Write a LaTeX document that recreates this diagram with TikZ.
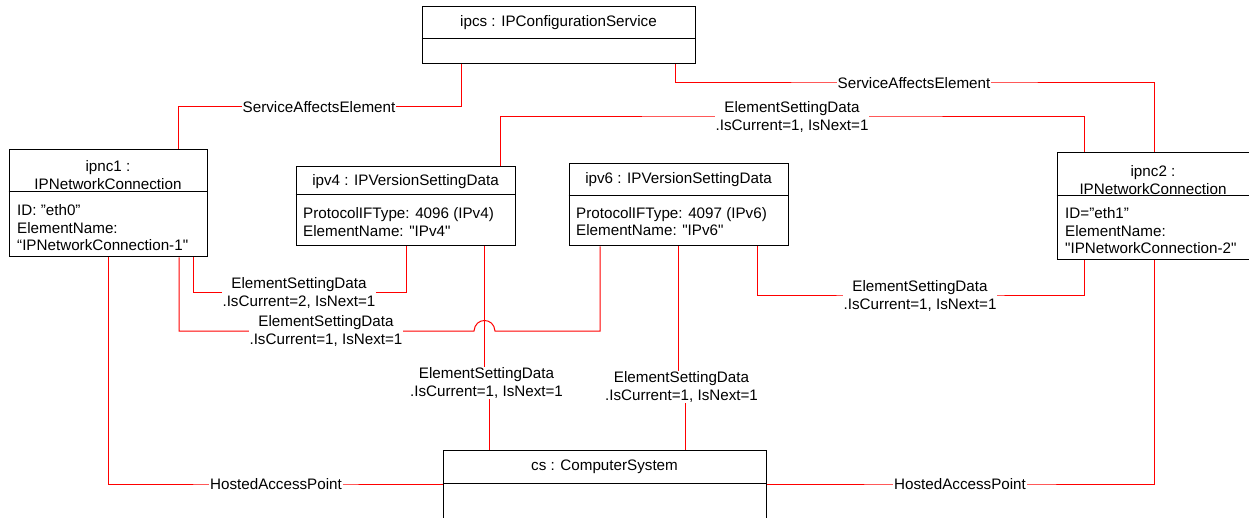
\documentclass[tikz,border=0pt]{standalone}
\usepackage{fontspec}
\setmainfont{Liberation Sans}[Ligatures=TeXOff]
\usepackage{tikz}

\begin{document}
\begin{tikzpicture}[x=1pt, y=-1pt,
  every node/.style={font=\fontsize{15.2}{17.5}\selectfont},
  obj/.style={draw=black, line width=1pt, inner sep=0pt},
  txt/.style={inner sep=0pt, align=left, anchor=west},
  link/.style={draw=red, line width=1pt},
  lbl/.style={fill=white, inner sep=1pt, align=center}]
  \useasboundingbox (0,0) rectangle (1249,518);

  \node[obj, minimum width=273pt, minimum height=57pt]  (ipcs)  at ( 558.5,  35.5) {};
  \node[obj, minimum width=198pt, minimum height=107pt] (ipnc1) at ( 108,   203.5) {};
  \node[obj, minimum width=219pt, minimum height=79pt]  (ipv4)  at ( 405.5, 206.5) {};
  \node[obj, minimum width=219pt, minimum height=82pt]  (ipv6)  at ( 678.5, 205  ) {};
  \node[obj, minimum width=192pt, minimum height=107pt] (ipnc2) at (1153,   206.5) {};
  \node[obj, minimum width=323pt, minimum height=90pt]  (cs)    at ( 604.5, 495  ) {};

  \draw[obj] (ipcs.west  |- 0, 39) -- (ipcs.east  |- 0, 39);
  \draw[obj] (ipnc1.west |- 0,192) -- (ipnc1.east |- 0,192);
  \draw[obj] (ipv4.west  |- 0,195) -- (ipv4.east  |- 0,195);
  \draw[obj] (ipv6.west  |- 0,196) -- (ipv6.east  |- 0,196);
  \draw[obj] (ipnc2.west |- 0,196) -- (ipnc2.east |- 0,196);
  \draw[obj] (cs.west    |- 0,483) -- (cs.east    |- 0,483);

  \node (ipcsname)  at ( 558.5,  23) {ipcs : IPConfigurationService};
  \node[align=center] (ipnc1name) at ( 108, 175) {ipnc1 :\\IPNetworkConnection};
  \node (ipv4name)  at ( 405.5, 182) {ipv4 : IPVersionSettingData};
  \node (ipv6name)  at ( 678.5, 180) {ipv6 : IPVersionSettingData};
  \node[align=center] (ipnc2name) at (1153, 180) {ipnc2 :\\IPNetworkConnection};
  \node (csname)    at ( 604.5, 467) {cs : ComputerSystem};

  \node[txt] (ipnc1attr) at (  17, 227.7) {ID: ”eth0”\\ElementName:\\“IPNetworkConnection-1"};
  \node[txt] (ipv4attr)  at ( 303, 222  ) {ProtocolIFType: 4096 (IPv4)\\ElementName: "IPv4"};
  \node[txt] (ipv6attr)  at ( 576, 221.7) {ProtocolIFType: 4097 (IPv6)\\ElementName: "IPv6"};
  \node[txt] (ipnc2attr) at (1065, 231  ) {ID=”eth1”\\ElementName:\\"IPNetworkConnection-2"};

  \draw[link] (ipcs.south -| 461,0) |- (319,107) node[lbl] (sae1) {ServiceAffectsElement} -| (ipnc1.north -| 178,0);
  \draw[link] (ipcs.south -| 675,0) |- (914,83) node[lbl] (sae2) {ServiceAffectsElement} -| (ipnc2.north -| 1154,0);
  \draw[link] (ipv4.north -| 500,0) |- (792,117) node[lbl] (esd1) {ElementSettingData\\.IsCurrent=1, IsNext=1} -| (ipnc2.north -| 1084,0);
  \draw[link] (ipnc1.south -| 193,0) |- (299,293) node[lbl] (esd2) {ElementSettingData\\.IsCurrent=2, IsNext=1} -| (ipv4.south -| 406,0);
  \draw[link] (ipnc1.south -| 179,0) |- (326,331) node[lbl] (esd3) {ElementSettingData\\.IsCurrent=1, IsNext=1}
    -- (474,331) .. controls (475,317) and (494,317) .. (495,331) -| (ipv6.south -| 600,0);
  \draw[link] (ipv4.south -| 484,0) -- (484,383) -- node[lbl] (esd4) {ElementSettingData\\.IsCurrent=1, IsNext=1} (489,383) -- (cs.north -| 489,0);
  \draw[link] (ipv6.south -| 678,0) -- (678,387) -- node[lbl] (esd5) {ElementSettingData\\.IsCurrent=1, IsNext=1} (685,387) -- (cs.north -| 685,0);
  \draw[link] (ipv6.south -| 757,0) |- (920,296) node[lbl] (esd6) {ElementSettingData\\.IsCurrent=1, IsNext=1} -| (ipnc2.south -| 1084,0);
  \draw[link] (ipnc1.south) |- (276,484) node[lbl] (hap1) {HostedAccessPoint} -- (cs.west |- 0,484);
  \draw[link] (cs.east |- 0,484) -- (960,484) node[lbl] (hap2) {HostedAccessPoint} -| (ipnc2.south -| 1154,0);
\end{tikzpicture}
\end{document}
